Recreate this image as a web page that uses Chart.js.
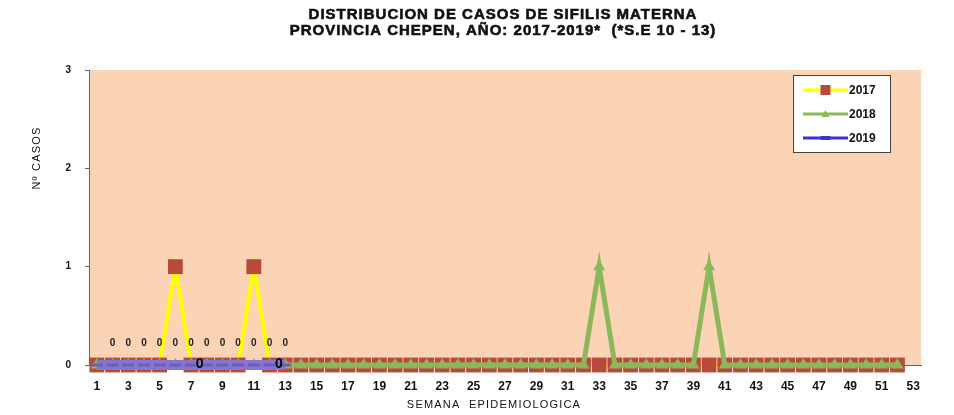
<!DOCTYPE html>
<html>
<head>
<meta charset="utf-8">
<script src="https://cdn.jsdelivr.net/npm/chart.js@4.4.1/dist/chart.umd.min.js"></script>
<style>
  html, body { margin: 0; padding: 0; background: #fff; }
  #wrap { width: 954px; height: 415px; }
</style>
</head>
<body>
<div id="wrap"><canvas id="sifilis" width="954" height="415"></canvas></div>
<script>
// Semana epidemiologica 1..53
const semanas = Array.from({ length: 53 }, (_, i) => String(i + 1))

const casos2017 = [0, 0, 0, 0, 0, 1, 0, 0, 0, 0, 1, 0, 0, 0, 0, 0, 0, 0, 0, 0, 0, 0, 0, 0, 0, 0,
  0, 0, 0, 0, 0, 0, 0, 0, 0, 0, 0, 0, 0, 0, 0, 0, 0, 0, 0, 0, 0, 0, 0, 0, 0, 0]
const casos2018 = [0, 0, 0, 0, 0, 0, 0, 0, 0, 0, 0, 0, 0, 0, 0, 0, 0, 0, 0, 0, 0, 0, 0, 0, 0, 0,
  0, 0, 0, 0, 0, 0, 1, 0, 0, 0, 0, 0, 0, 1, 0, 0, 0, 0, 0, 0, 0, 0, 0, 0, 0, 0]
const casos2019 = [0, 0, 0, 0, 0, 0, 0, 0, 0, 0, 0, 0, 0]

const yTicks = [0, 1, 2, 3]

// "0" labels shown above the 2019 series (weeks 2 - 13) and two bold ones on the base line
const etiquetasSemanas = [2, 3, 4, 5, 6, 7, 8, 9, 10, 11, 12, 13]
const etiquetasBase = [7.55, 12.6]

const FONT = "'Liberation Sans', Arial, sans-serif"

const colores = {
  c2017: "#FFFF00",
  c2017Mark: "#B84A3C",
  c2018: "#8DB85A",
  c2019: "#8576cc",
  fondo: "#FAD4B4",
}

// Peach plot background
const plotBg = {
  id: "plotBg",
  beforeDraw(chart) {
    const { ctx, chartArea: a } = chart
    ctx.save()
    ctx.fillStyle = colores.fondo
    ctx.fillRect(a.left, a.top, a.right - a.left, a.bottom - a.top)
    ctx.restore()
  }
}

// Titles, data labels and the boxed legend
const extras = {
  id: "extras",
  afterDraw(chart) {
    const { ctx, chartArea: a } = chart
    const xs = chart.scales.x
    const ys = chart.scales.y
    ctx.save()

    // title
    ctx.fillStyle = "#111"
    ctx.strokeStyle = "#111"
    ctx.lineWidth = 0.6
    ctx.textAlign = "center"
    ctx.textBaseline = "middle"
    ctx.font = `bold 15px ${FONT}`
    ctx.letterSpacing = "1px"
    const t1 = "DISTRIBUCION DE CASOS DE SIFILIS MATERNA"
    const t2 = "PROVINCIA CHEPEN, AÑO: 2017-2019*  (*S.E 10 - 13)"
    ctx.fillText(t1, 503, 15)
    ctx.strokeText(t1, 503, 15)
    ctx.fillText(t2, 503, 31)
    ctx.strokeText(t2, 503, 31)

    // axis titles
    ctx.font = `11px ${FONT}`
    ctx.letterSpacing = "1.2px"
    ctx.fillText("SEMANA  EPIDEMIOLOGICA", 494, 405)
    ctx.save()
    ctx.translate(37, 158)
    ctx.rotate(-Math.PI / 2)
    ctx.fillText("Nº CASOS", 0, 0)
    ctx.restore()
    ctx.letterSpacing = "0px"

    // small "0" labels
    ctx.font = `bold 10px ${FONT}`
    ctx.fillStyle = "#222"
    etiquetasSemanas.forEach(w => {
      const x = xs.getPixelForValue(w - 1)
      const y = ys.getPixelForValue(casos2019[w - 1]) - 22
      ctx.fillText("0", x, y)
    })
    ctx.font = `bold 14px ${FONT}`
    ctx.fillStyle = "#000"
    etiquetasBase.forEach(w => {
      ctx.fillText("0", xs.getPixelForValue(w - 1), ys.getPixelForValue(0) - 1)
    })

    // legend box
    const bx = a.right - 128, by = a.top + 5, bw = 97, bh = 77
    ctx.fillStyle = "#fff"
    ctx.fillRect(bx, by, bw, bh)
    ctx.strokeStyle = "#444"
    ctx.lineWidth = 1
    ctx.strokeRect(bx + 0.5, by + 0.5, bw, bh)

    const items = chart.data.datasets
    items.forEach((ds, i) => {
      const ly = by + 15 + i * 24
      const x0 = bx + 10, x1 = bx + 55
      ctx.strokeStyle = i === 2 ? "#3c36c8" : ds.borderColor
      ctx.lineWidth = 3
      ctx.beginPath()
      ctx.moveTo(x0, ly)
      ctx.lineTo(x1, ly)
      ctx.stroke()
      const mx = (x0 + x1) / 2
      ctx.fillStyle = ds.pointBackgroundColor
      if (ds.pointStyle === "rect") {
        ctx.fillRect(mx - 5, ly - 5, 10, 10)
      } else if (ds.pointStyle === "triangle") {
        ctx.beginPath()
        ctx.moveTo(mx, ly - 4)
        ctx.lineTo(mx + 4, ly + 3)
        ctx.lineTo(mx - 4, ly + 3)
        ctx.closePath()
        ctx.fill()
      } else {
        ctx.fillStyle = "#3c36c8"
        ctx.fillRect(mx - 5, ly - 2, 10, 4)
      }
      ctx.fillStyle = "#111"
      ctx.textAlign = "left"
      ctx.font = `bold 12px ${FONT}`
      ctx.fillText(ds.label, x1 + 1, ly + 1)
    })

    ctx.restore()
  }
}

const ctxSif = document.querySelector("#sifilis")

new Chart(ctxSif, {
  type: "line",
  data: {
    labels: semanas,
    datasets: [
      {
        label: "2017",
        data: casos2017,
        borderColor: colores.c2017,
        borderWidth: 4,
        pointStyle: "rect",
        pointRadius: 10.5,
        pointBorderWidth: 0,
        pointBackgroundColor: colores.c2017Mark,
        pointBorderColor: colores.c2017Mark,
        tension: 0,
        clip: false,
        order: 3,
      },
      {
        label: "2018",
        data: casos2018,
        borderColor: colores.c2018,
        borderWidth: 5,
        pointStyle: "triangle",
        pointRadius: 7,
        pointBorderWidth: 0,
        pointBackgroundColor: colores.c2018,
        pointBorderColor: colores.c2018,
        tension: 0,
        clip: false,
        order: 2,
      },
      {
        label: "2019",
        data: casos2019,
        borderColor: colores.c2019,
        borderWidth: 10,
        pointStyle: "line",
        pointRadius: 6,
        pointBorderWidth: 3,
        pointBackgroundColor: "#6a5fb8",
        pointBorderColor: "#6a5fb8",
        tension: 0,
        clip: false,
        order: 1,
      },
    ]
  },
  options: {
    responsive: false,
    animation: false,
    layout: { padding: { top: 70, right: 33, left: 0, bottom: 0 } },
    plugins: {
      legend: { display: false },
      title: { display: false },
      tooltip: { enabled: false },
    },
    scales: {
      x: {
        offset: true,
        grid: { display: false, offset: true },
        border: { display: true, color: "#666", width: 1 },
        ticks: {
          autoSkip: false,
          maxRotation: 0,
          color: "#111",
          font: { family: FONT, size: 12, weight: "bold" },
          padding: 6,
          callback: (v, i) => i % 2 === 0 ? semanas[i] : "",
        },
        afterFit: s => { s.height = 50 },
      },
      y: {
        min: 0,
        max: 3,
        afterBuildTicks: s => { s.ticks = yTicks.map(v => ({ value: v })) },
        grid: { display: true, drawOnChartArea: false, tickLength: 4, color: "#666" },
        border: { display: true, color: "#666", width: 1 },
        ticks: {
          color: "#111",
          font: { family: FONT, size: 10, weight: "bold" },
          padding: 14,
        },
        afterFit: s => { s.width = 89 },
      },
    },
  },
  plugins: [plotBg, extras],
})
</script>
</body>
</html>
